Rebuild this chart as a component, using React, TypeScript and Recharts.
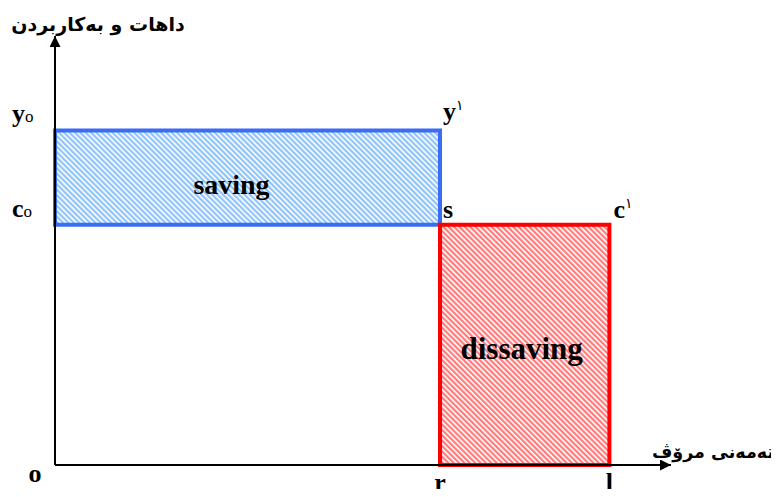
import React from "react";
import {
  ComposedChart,
  Scatter,
  XAxis,
  YAxis,
  ReferenceArea,
} from "recharts";

// values (age on x, income / consumption on y)
const ageTicks = [0, 50, 72];
const ageLabels = ["o", "r", "l"];
const levelTicks = [56, 78];
const levelLabels = ["c", "y"];
const savingBox = [0, 50, 56, 78]; // x1, x2, y1, y2
const dissavingBox = [50, 72, 0, 56];
const boxNames = ["saving", "dissaving"];
const cornerLabels = ["y", "s", "c"];
const axisTitles = ["داهات و بەکاربردن", "تەمەنی مرۆڤ"];

// corners of the two boxes, only so the chart has points to lay out
const corners = [
  { x: savingBox[0], y: savingBox[3] },
  { x: savingBox[1], y: savingBox[2] },
  { x: dissavingBox[1], y: dissavingBox[2] },
];

const serif = "'Liberation Serif', 'Times New Roman', serif";
const arabic = "'DejaVu Sans', sans-serif";

const XTick = (props: any) => {
  const { x, y, payload, index } = props;
  if (payload.value === 0) {
    return (
      <text x={x - 20} y={y + 17} textAnchor="middle" fontFamily={serif} fontWeight="bold" fontSize={26} fill="#000">
        {ageLabels[index]}
      </text>
    );
  }
  return (
    <text x={x} y={y + 26} textAnchor="middle" fontFamily={serif} fontWeight="bold" fontSize={26} fill="#000">
      {ageLabels[index]}
    </text>
  );
};

const YTick = (props: any) => {
  const { y, index } = props;
  return (
    <text x={12} y={y - 8} fontFamily={serif} fontWeight="bold" fontSize={26} fill="#000">
      {levelLabels[index]}
      <tspan fontSize={17} fontWeight="normal">o</tspan>
    </text>
  );
};

const SavingLabel = (props: any) => {
  const { x, y, width, height } = props.viewBox;
  return (
    <g fontFamily={serif} fontWeight="bold" fill="#000">
      <text x={x + width / 2 - 16} y={y + height / 2 + 16} textAnchor="middle" fontSize={28}>
        {boxNames[0]}
      </text>
      <text x={x + width + 3} y={y - 10} fontSize={26}>
        {cornerLabels[0]}
        <tspan fontSize={14} fontWeight="normal" dy={-10}>١</tspan>
      </text>
      <text x={x + width + 3} y={y + height - 7} fontSize={26}>
        {cornerLabels[1]}
      </text>
    </g>
  );
};

const DissavingLabel = (props: any) => {
  const { x, y, width, height } = props.viewBox;
  return (
    <g fontFamily={serif} fontWeight="bold" fill="#000">
      <text x={x + width / 2 - 3} y={y + height / 2 + 14} textAnchor="middle" fontSize={31}>
        {boxNames[1]}
      </text>
      <text x={x + width + 4} y={y - 7} fontSize={26}>
        {cornerLabels[2]}
        <tspan fontSize={14} fontWeight="normal" dy={-10}>١</tspan>
      </text>
    </g>
  );
};

const App = () => {
  return (
    <div style={{ margin: -8, width: 779, height: 497, background: "#fff" }}>
      <ComposedChart
        width={779}
        height={497}
        data={corners}
        margin={{ top: 36, right: 108, bottom: 0, left: 0 }}
      >
        <defs>
          <marker id="arrow" viewBox="0 0 10 10" refX={10} refY={5} markerWidth={12} markerHeight={11} markerUnits="userSpaceOnUse" orient="auto-start-reverse">
            <path d="M0,0 L10,5 L0,10 z" fill="#000" />
          </marker>
          <pattern id="blueHatch" patternUnits="userSpaceOnUse" width={3.8} height={3.8} patternTransform="rotate(-45)">
            <rect width={3.8} height={3.8} fill="#ffffff" />
            <rect width={2.2} height={3.8} fill="#8fc3fa" />
          </pattern>
          <pattern id="redHatch" patternUnits="userSpaceOnUse" width={3.8} height={3.8} patternTransform="rotate(-45)">
            <rect width={3.8} height={3.8} fill="#ffffff" />
            <rect width={2.2} height={3.8} fill="#ff7a7a" />
          </pattern>
        </defs>
        <XAxis
          type="number"
          dataKey="x"
          domain={[0, 80]}
          ticks={ageTicks}
          tick={<XTick />}
          tickLine={false}
          tickSize={0}
          tickMargin={0}
          height={32}
          allowDataOverflow
          axisLine={{ stroke: "#000", strokeWidth: 2, markerEnd: "url(#arrow)" }}
          label={{
            value: axisTitles[1],
            content: (p: any) => (
              <text x={713} y={p.viewBox.y - 7} textAnchor="middle" fontFamily={arabic} fontWeight="bold" fontSize={17.5} fill="#000">
                {axisTitles[1]}
              </text>
            ),
          }}
        />
        <YAxis
          type="number"
          dataKey="y"
          domain={[0, 100]}
          ticks={levelTicks}
          tick={<YTick />}
          tickLine={false}
          tickSize={0}
          tickMargin={0}
          width={55}
          allowDataOverflow
          axisLine={{ stroke: "#000", strokeWidth: 2, markerStart: "url(#arrow)" }}
          label={{
            value: axisTitles[0],
            content: () => (
              <text x={98} y={31} textAnchor="middle" fontFamily={arabic} fontWeight="bold" fontSize={19} fill="#000">
                {axisTitles[0]}
              </text>
            ),
          }}
        />
        <Scatter dataKey="y" isAnimationActive={false} shape={() => <g />} />
        <ReferenceArea
          x1={savingBox[0]}
          x2={savingBox[1]}
          y1={savingBox[2]}
          y2={savingBox[3]}
          fill="url(#blueHatch)"
          fillOpacity={1}
          stroke="#3a6cf4"
          strokeWidth={4}
          ifOverflow="visible"
          label={(p: any) => <SavingLabel {...p} />}
        />
        <ReferenceArea
          x1={dissavingBox[0]}
          x2={dissavingBox[1]}
          y1={dissavingBox[2]}
          y2={dissavingBox[3]}
          fill="url(#redHatch)"
          fillOpacity={1}
          stroke="#ff0000"
          strokeWidth={4}
          ifOverflow="visible"
          label={(p: any) => <DissavingLabel {...p} />}
        />
      </ComposedChart>
    </div>
  );
};

export default App;
